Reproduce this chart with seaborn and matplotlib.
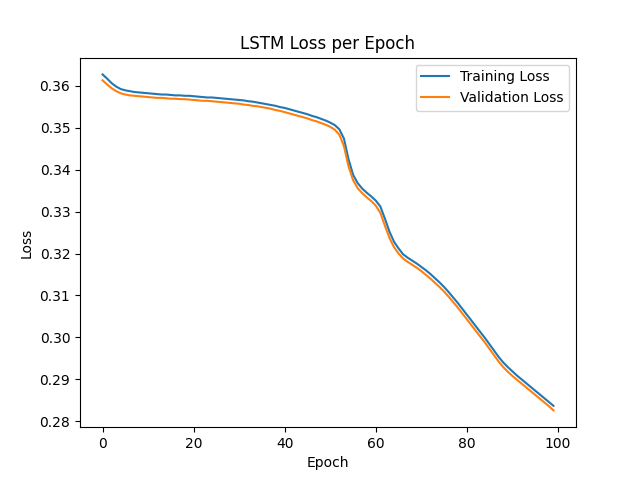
import matplotlib
matplotlib.use("Agg")
import matplotlib.pyplot as plt
import seaborn as sns
import pandas as pd

epochs = list(range(100))

train_loss = [
    0.3627, 0.3617, 0.3606, 0.3598, 0.3592, 0.3589, 0.3587, 0.3585, 0.3584, 0.3583,
    0.3582, 0.3581, 0.3580, 0.3579, 0.3579, 0.3578, 0.3577, 0.3577, 0.3576, 0.3576,
    0.3575, 0.3574, 0.3573, 0.3572, 0.3572, 0.3571, 0.3570, 0.3569, 0.3568, 0.3567,
    0.3566, 0.3565, 0.3563, 0.3562, 0.3560, 0.3558, 0.3556, 0.3554, 0.3552, 0.3549,
    0.3547, 0.3544, 0.3541, 0.3538, 0.3535, 0.3532, 0.3528, 0.3525, 0.3521, 0.3517,
    0.3512, 0.3506, 0.3496, 0.3474, 0.3425, 0.3388, 0.3368, 0.3355, 0.3345, 0.3336,
    0.3326, 0.3312, 0.3283, 0.3252, 0.3228, 0.3212, 0.3198, 0.3190, 0.3183, 0.3176,
    0.3168, 0.3160, 0.3151, 0.3141, 0.3131, 0.3120, 0.3108, 0.3095, 0.3082, 0.3068,
    0.3054, 0.3040, 0.3026, 0.3012, 0.2998, 0.2983, 0.2968, 0.2953, 0.2940, 0.2929,
    0.2919, 0.2909, 0.2900, 0.2891, 0.2882, 0.2873, 0.2864, 0.2855, 0.2846, 0.2837,
]

val_loss = [
    0.3613, 0.3603, 0.3594, 0.3587, 0.3582, 0.3579, 0.3577, 0.3576, 0.3575, 0.3574,
    0.3573, 0.3572, 0.3571, 0.3571, 0.3570, 0.3569, 0.3569, 0.3568, 0.3568, 0.3567,
    0.3566, 0.3565, 0.3564, 0.3564, 0.3563, 0.3562, 0.3561, 0.3560, 0.3559, 0.3558,
    0.3557, 0.3555, 0.3554, 0.3552, 0.3551, 0.3549, 0.3547, 0.3545, 0.3542, 0.3540,
    0.3537, 0.3534, 0.3531, 0.3528, 0.3525, 0.3522, 0.3518, 0.3515, 0.3511, 0.3507,
    0.3502, 0.3495, 0.3483, 0.3456, 0.3408, 0.3375, 0.3356, 0.3344, 0.3334, 0.3325,
    0.3314, 0.3297, 0.3266, 0.3237, 0.3215, 0.3200, 0.3188, 0.3180, 0.3173, 0.3166,
    0.3158, 0.3149, 0.3140, 0.3130, 0.3120, 0.3109, 0.3097, 0.3084, 0.3071, 0.3057,
    0.3043, 0.3029, 0.3015, 0.3001, 0.2987, 0.2972, 0.2957, 0.2942, 0.2929, 0.2918,
    0.2908, 0.2899, 0.2890, 0.2881, 0.2872, 0.2863, 0.2854, 0.2845, 0.2836, 0.2826,
]

df = pd.DataFrame({"Epoch": epochs, "Training Loss": train_loss, "Validation Loss": val_loss})

fig, ax = plt.subplots(figsize=(6.4, 4.8), dpi=100)
sns.lineplot(data=df, x="Epoch", y="Training Loss", ax=ax, label="Training Loss", color="#1f77b4")
sns.lineplot(data=df, x="Epoch", y="Validation Loss", ax=ax, label="Validation Loss", color="#ff7f0e")
ax.set_title("LSTM Loss per Epoch")
ax.set_xlabel("Epoch")
ax.set_ylabel("Loss")
ax.legend(loc="upper right")
fig.savefig("out.png", dpi=100)
